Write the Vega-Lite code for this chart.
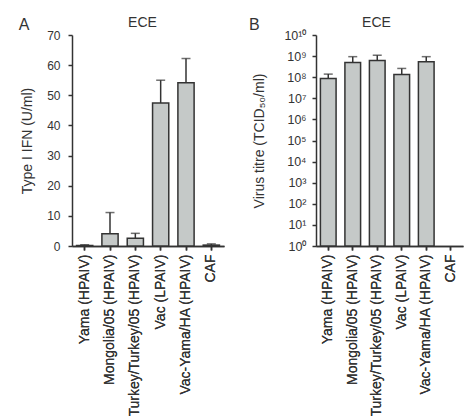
{
  "$schema": "https://vega.github.io/schema/vega-lite/v6.json",
  "padding": {"left": 18, "top": 15, "right": 5, "bottom": 5},
  "background": "white",
  "config": {
    "font": "Liberation Sans",
    "view": {"stroke": null},
    "concat": {"spacing": 24},
    "axis": {
      "domainColor": "#333333",
      "domainWidth": 1.5,
      "tickColor": "#333333",
      "tickWidth": 1.5,
      "tickSize": 4,
      "grid": false,
      "labelColor": "#333333",
      "labelFont": "Liberation Sans",
      "titleFont": "Liberation Sans",
      "titleColor": "#333333",
      "titleFontWeight": "normal",
      "titleFontSize": 14
    },
    "title": {"font": "Liberation Sans", "color": "#333333", "fontWeight": "normal"}
  },
  "datasets": {
    "ifn": [
      {"strain": "Yama (HPAIV)", "mean": 0.2, "upper": 0.4},
      {"strain": "Mongolia/05 (HPAIV)", "mean": 4.1, "upper": 11.1},
      {"strain": "Turkey/Turkey/05 (HPAIV)", "mean": 2.6, "upper": 4.2},
      {"strain": "Vac (LPAIV)", "mean": 47.4, "upper": 55.0},
      {"strain": "Vac-Yama/HA (HPAIV)", "mean": 54.2, "upper": 62.2},
      {"strain": "CAF", "mean": 0.3, "upper": 0.7}
    ],
    "titre": [
      {"strain": "Yama (HPAIV)", "mean": 86000000, "upper": 140000000},
      {"strain": "Mongolia/05 (HPAIV)", "mean": 500000000, "upper": 940000000},
      {"strain": "Turkey/Turkey/05 (HPAIV)", "mean": 620000000, "upper": 1100000000},
      {"strain": "Vac (LPAIV)", "mean": 133000000, "upper": 260000000},
      {"strain": "Vac-Yama/HA (HPAIV)", "mean": 540000000, "upper": 940000000}
    ]
  },
  "hconcat": [
    {
      "width": 152,
      "height": 211,
      "data": {"name": "ifn"},
      "title": {"text": "A", "anchor": "start", "frame": "bounds", "fontSize": 16, "dy": 22, "dx": -2},
      "encoding": {
        "x": {
          "field": "strain",
          "type": "nominal",
          "sort": null,
          "scale": {
            "domain": ["Yama (HPAIV)", "Mongolia/05 (HPAIV)", "Turkey/Turkey/05 (HPAIV)", "Vac (LPAIV)", "Vac-Yama/HA (HPAIV)", "CAF"],
            "paddingInner": 0.36,
            "paddingOuter": 0.18
          },
          "axis": {"title": null, "labelAngle": -90, "labelFontSize": 14, "labelPadding": 4}
        },
        "y": {
          "field": "mean",
          "type": "quantitative",
          "scale": {"domain": [0, 70], "nice": false},
          "axis": {"title": "Type I IFN (U/ml)", "values": [0, 10, 20, 30, 40, 50, 60, 70], "labelOverlap": false, "labelFontSize": 12, "labelPadding": 8, "titlePadding": 12}
        }
      },
      "layer": [
        {
          "mark": {"type": "rule", "color": "#333333", "strokeWidth": 1.5},
          "encoding": {
            "y2": {"field": "upper"}
          }
        },
        {
          "mark": {"type": "tick", "orient": "horizontal", "color": "#333333", "size": 9, "thickness": 1.5},
          "encoding": {
            "x": {
              "field": "strain",
              "type": "nominal",
              "sort": null,
              "axis": {"orient": "top", "title": "ECE", "titleFontSize": 14, "titlePadding": 6, "titleX": 70, "labels": false, "ticks": false, "domain": false}
            },
            "y": {"field": "upper", "type": "quantitative"}
          }
        },
        {
          "mark": {"type": "bar", "fill": "#c5c9c8", "stroke": "#333333", "strokeWidth": 1.5}
        }
      ],
      "resolve": {"axis": {"x": "independent"}}
    },
    {
      "width": 147,
      "height": 211,
      "data": {"name": "titre"},
      "title": {"text": "B", "anchor": "start", "frame": "bounds", "fontSize": 16, "dy": 22, "dx": -4},
      "encoding": {
        "x": {
          "field": "strain",
          "type": "nominal",
          "sort": null,
          "scale": {
            "domain": ["Yama (HPAIV)", "Mongolia/05 (HPAIV)", "Turkey/Turkey/05 (HPAIV)", "Vac (LPAIV)", "Vac-Yama/HA (HPAIV)", "CAF"],
            "paddingInner": 0.36,
            "paddingOuter": 0.18
          },
          "axis": {"title": null, "labelAngle": -90, "labelFontSize": 14, "labelPadding": 4}
        },
        "y": {
          "field": "mean",
          "type": "quantitative",
          "scale": {"type": "log", "domain": [1, 10000000000], "nice": false},
          "axis": {
            "title": "Virus titre (TCID₅₀/ml)",
            "values": [1, 10, 100, 1000, 10000, 100000, 1000000, 10000000, 100000000, 1000000000, 10000000000],
            "labelExpr": "'10' + (datum.value >= 1e10 ? '¹⁰' : ['⁰','¹','²','³','⁴','⁵','⁶','⁷','⁸','⁹'][round(log(datum.value)/LN10)])",
            "labelOverlap": false,
            "labelFontSize": 12.5,
            "labelPadding": 6,
            "titlePadding": 17
          }
        }
      },
      "layer": [
        {
          "mark": {"type": "rule", "color": "#333333", "strokeWidth": 1.5},
          "encoding": {
            "y2": {"field": "upper"}
          }
        },
        {
          "mark": {"type": "tick", "orient": "horizontal", "color": "#333333", "size": 9, "thickness": 1.5},
          "encoding": {
            "x": {
              "field": "strain",
              "type": "nominal",
              "sort": null,
              "axis": {"orient": "top", "title": "ECE", "titleFontSize": 14, "titlePadding": 6, "titleX": 60, "labels": false, "ticks": false, "domain": false}
            },
            "y": {"field": "upper", "type": "quantitative"}
          }
        },
        {
          "mark": {"type": "bar", "fill": "#c5c9c8", "stroke": "#333333", "strokeWidth": 1.5},
          "encoding": {
            "y2": {"datum": 1}
          }
        }
      ],
      "resolve": {"axis": {"x": "independent"}}
    }
  ]
}
